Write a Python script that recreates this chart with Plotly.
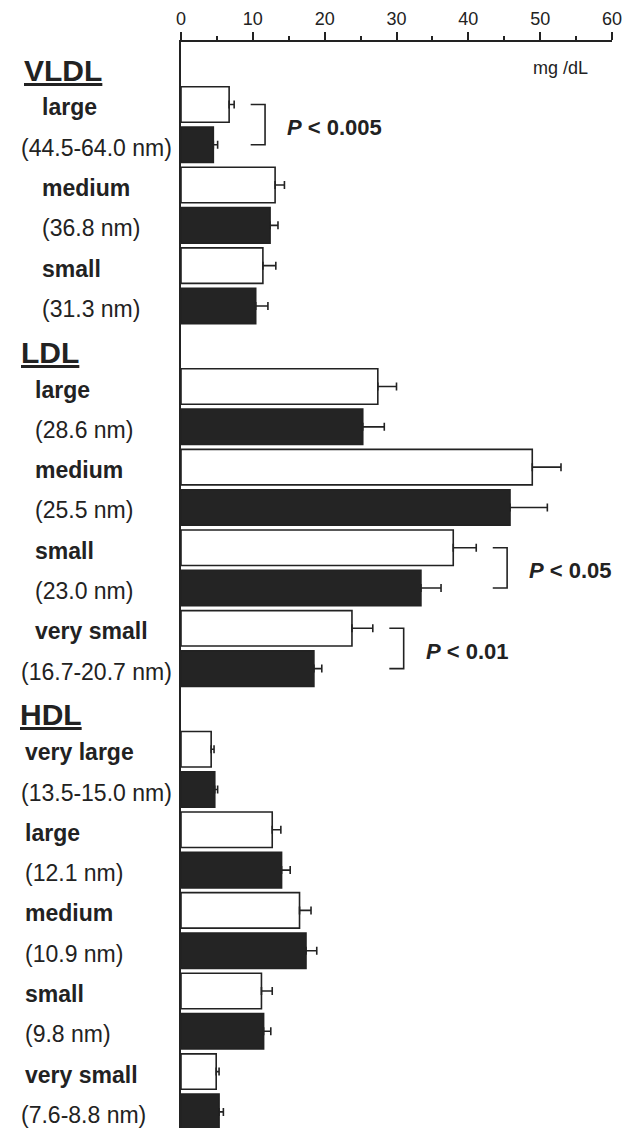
import plotly.graph_objects as go

# ---------------- data ----------------
groups = ["VLDL", "LDL", "HDL"]

vldl_classes = ["large", "medium", "small"]
vldl_sizes = ["(44.5-64.0 nm)", "(36.8 nm)", "(31.3 nm)"]
vldl_open = [6.7, 13.1, 11.4]
vldl_open_err = [0.7, 1.3, 1.8]
vldl_filled = [4.5, 12.4, 10.4]
vldl_filled_err = [0.6, 1.1, 1.7]

ldl_classes = ["large", "medium", "small", "very small"]
ldl_sizes = ["(28.6 nm)", "(25.5 nm)", "(23.0 nm)", "(16.7-20.7 nm)"]
ldl_open = [27.4, 48.9, 37.9, 23.8]
ldl_open_err = [2.6, 4.0, 3.2, 2.9]
ldl_filled = [25.3, 45.8, 33.4, 18.5]
ldl_filled_err = [3.0, 5.2, 2.8, 1.1]

hdl_classes = ["very large", "large", "medium", "small", "very small"]
hdl_sizes = ["(13.5-15.0 nm)", "(12.1 nm)", "(10.9 nm)", "(9.8 nm)", "(7.6-8.8 nm)"]
hdl_open = [4.2, 12.7, 16.5, 11.2, 4.9]
hdl_open_err = [0.4, 1.2, 1.6, 1.5, 0.4]
hdl_filled = [4.7, 14.0, 17.4, 11.5, 5.3]
hdl_filled_err = [0.4, 1.2, 1.5, 1.0, 0.6]

# significance: (group, subclass index, label)
pvalues = [("VLDL", 0, "<b><i>P</i> < 0.005</b>"),
           ("LDL", 2, "<b><i>P</i> < 0.05</b>"),
           ("LDL", 3, "<b><i>P</i> < 0.01</b>")]

tick_vals = [0, 10, 20, 30, 40, 50, 60]
unit_label = "mg /dL"

# ---------------- layout helpers ----------------
FONT = "Liberation Sans, Arial, Helvetica, sans-serif"
group_data = {
    "VLDL": (vldl_classes, vldl_sizes, vldl_open, vldl_open_err, vldl_filled, vldl_filled_err),
    "LDL": (ldl_classes, ldl_sizes, ldl_open, ldl_open_err, ldl_filled, ldl_filled_err),
    "HDL": (hdl_classes, hdl_sizes, hdl_open, hdl_open_err, hdl_filled, hdl_filled_err),
}
group_indent_px = {"VLDL": 40, "LDL": 33, "HDL": 23}
ML, MR, W = 181, 12, 624
PW = W - ML - MR


def px_to_paper(px):
    return (px - ML) / PW


slot = -1
header_slot = {}
open_y, open_x, open_e = [], [], []
filled_y, filled_x, filled_e = [], [], []
row_pos = {}
annotations = []
for g in groups:
    cls, sizes, ov, oe, fv, fe = group_data[g]
    header_slot[g] = slot
    slot += 1
    for i in range(len(cls)):
        open_y.append(slot); open_x.append(ov[i]); open_e.append(oe[i])
        filled_y.append(slot + 1); filled_x.append(fv[i]); filled_e.append(fe[i])
        row_pos[(g, i)] = (slot, ov[i] + oe[i], fv[i] + fe[i])
        ind = group_indent_px[g]
        annotations.append(dict(x=px_to_paper(ind), y=slot, xref="paper", yref="y", text="<b>" + cls[i] + "</b>",
                                showarrow=False, xanchor="left", yanchor="middle", yshift=-3,
                                font=dict(family=FONT, size=23, color="#222")))
        sx = px_to_paper(19) if "-" in sizes[i] else px_to_paper(ind)
        annotations.append(dict(x=sx, y=slot + 1, xref="paper", yref="y", text=sizes[i],
                                showarrow=False, xanchor="left", yanchor="middle", yshift=-3,
                                font=dict(family=FONT, size=23, color="#222")))
        slot += 2

header_px = {"VLDL": 22, "LDL": 19, "HDL": 18}
for g in groups:
    annotations.append(dict(x=px_to_paper(header_px[g]), y=header_slot[g] + 0.15, xref="paper", yref="y",
                            text="<b><u>" + g + "</u></b>", showarrow=False, xanchor="left",
                            yanchor="middle", font=dict(family=FONT, size=30, color="#222")))

annotations.append(dict(x=px_to_paper(560), y=-0.9, xref="paper", yref="y", text=unit_label, showarrow=False,
                        xanchor="center", yanchor="middle", font=dict(family=FONT, size=18, color="#222")))

shapes = []
for g, i, txt in pvalues:
    s, oend, fend = row_pos[(g, i)]
    left = max(oend, fend) + 2.3
    right = left + 2.0
    shapes.append(dict(type="path", xref="x", yref="y",
                       path=f"M {left} {s} L {right} {s} L {right} {s + 1} L {left} {s + 1}",
                       line=dict(color="#222", width=1.6)))
    annotations.append(dict(x=right + 2.8, y=s + 0.5, xref="x", yref="y", text=txt, showarrow=False,
                            xanchor="left", yanchor="middle", yshift=-3,
                            font=dict(family=FONT, size=22, color="#222")))

fig = go.Figure()
fig.add_trace(go.Bar(orientation="h", y=open_y, x=open_x, width=0.88,
                     marker=dict(color="white", line=dict(color="#222", width=1.6)),
                     error_x=dict(type="data", symmetric=False, array=open_e, arrayminus=[0] * len(open_e),
                                  color="#222", thickness=1.6, width=4),
                     showlegend=False))
fig.add_trace(go.Bar(orientation="h", y=filled_y, x=filled_x, width=0.88,
                     marker=dict(color="#242424", line=dict(color="#222", width=1.6)),
                     error_x=dict(type="data", symmetric=False, array=filled_e, arrayminus=[0] * len(filled_e),
                                  color="#222", thickness=1.6, width=4),
                     showlegend=False))

fig.update_layout(
    width=W, height=1128,
    margin=dict(l=ML, r=MR, t=42, b=0),
    plot_bgcolor="white", paper_bgcolor="white",
    barmode="overlay",
    annotations=annotations, shapes=shapes,
    xaxis=dict(side="top", range=[0, 60], tickvals=tick_vals, ticks="outside", ticklen=8,
               tickwidth=1.5, tickcolor="#222", showline=True, linecolor="#222", linewidth=1.6,
               showgrid=False, zeroline=False,
               minor=dict(dtick=5, ticks="outside", ticklen=4, tickwidth=1.5, tickcolor="#222"),
               tickfont=dict(family=FONT, size=18, color="#222")),
    yaxis=dict(range=[25.4, -1.55], showline=True, linecolor="#222", linewidth=1.6,
               showticklabels=False, ticks="", showgrid=False, zeroline=False),
)

fig.write_html("out.html")
